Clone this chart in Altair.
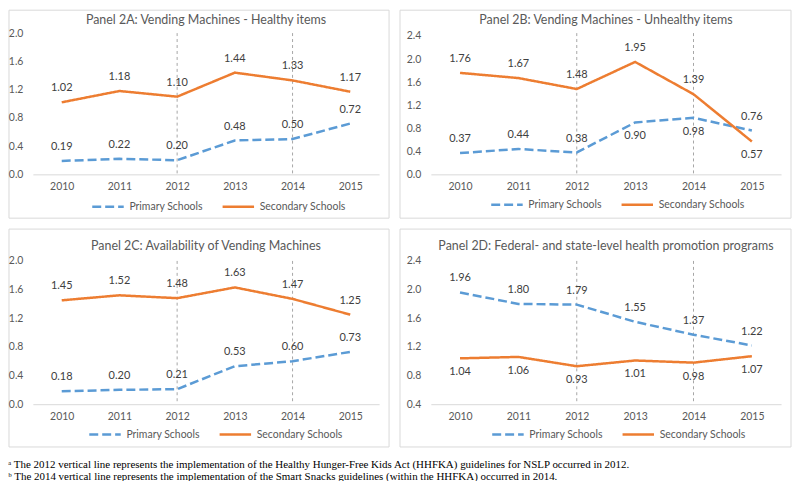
import altair as alt
import pandas as pd

FONT = "Lato"
SERIF = "Liberation Serif"

years = ["2010", "2011", "2012", "2013", "2014", "2015"]
series = ["Primary Schools", "Secondary Schools"]
policy_years = ["2012", "2014"]

a_title = "Panel 2A: Vending Machines - Healthy items"
a_primary = [0.19, 0.22, 0.20, 0.48, 0.50, 0.72]
a_secondary = [1.02, 1.18, 1.10, 1.44, 1.33, 1.17]

b_title = "Panel 2B: Vending Machines - Unhealthy items"
b_primary = [0.37, 0.44, 0.38, 0.90, 0.98, 0.76]
b_secondary = [1.76, 1.67, 1.48, 1.95, 1.39, 0.57]

c_title = "Panel 2C: Availability of Vending Machines"
c_primary = [0.18, 0.20, 0.21, 0.53, 0.60, 0.73]
c_secondary = [1.45, 1.52, 1.48, 1.63, 1.47, 1.25]

d_title = "Panel 2D: Federal- and state-level health promotion programs"
d_primary = [1.96, 1.80, 1.79, 1.55, 1.37, 1.22]
d_secondary = [1.04, 1.06, 0.93, 1.01, 0.98, 1.07]

ticks_0_20 = [0.0, 0.4, 0.8, 1.2, 1.6, 2.0]
ticks_0_24 = [0.0, 0.4, 0.8, 1.2, 1.6, 2.0, 2.4]
ticks_04_24 = [0.4, 0.8, 1.2, 1.6, 2.0, 2.4]

footnotes = [
    "ᵃ  The 2012 vertical line represents the implementation of the Healthy Hunger-Free Kids Act (HHFKA) guidelines for NSLP occurred in 2012.",
    "ᵇ  The 2014 vertical line represents the implementation of the Smart Snacks guidelines (within the HHFKA) occurred in 2014.",
]

# labels drawn below their point (everything else above)
b_below = {("Primary Schools", "2013"), ("Primary Schools", "2014"), ("Secondary Schools", "2015")}
d_below = {("Secondary Schools", y) for y in years}

COLORS = ["#5B9BD5", "#ED7D31"]
DASHES = [[9, 4], [1, 0]]


def panel(title, primary, secondary, below, domain, ticks, width, height,
          box, title_y, legend_x, legend_y):
    rows = []
    for s, vals in zip(series, [primary, secondary]):
        for yr, v in zip(years, vals):
            rows.append({"year": yr, "series": s, "value": v,
                         "pos": "below" if (s, yr) in below else "above"})
    df = pd.DataFrame(rows)

    x = alt.X("year:O", scale=alt.Scale(type="point", padding=0.5, domain=years),
              axis=alt.Axis(title=None, labelAngle=0, ticks=False, domainColor="#d9d9d9",
                            labelColor="#595959", labelFontSize=10.5, labelFont=FONT,
                            labelPadding=7, zindex=1))
    y = alt.Y("value:Q", scale=alt.Scale(domain=domain, nice=False, zero=False),
              axis=alt.Axis(title=None, values=ticks, format=".1f", grid=False, domain=False,
                            ticks=False, labelColor="#595959", labelFontSize=10.5,
                            labelFont=FONT, labelPadding=10, zindex=1))

    leg = alt.Legend(orient="none", legendX=legend_x, legendY=legend_y, direction="horizontal",
                     title=None, symbolType="stroke", symbolSize=1000, symbolStrokeWidth=2.5,
                     labelFontSize=10.5, labelColor="#595959", labelFont=FONT,
                     columnPadding=14, labelOffset=4)

    box_layer = alt.Chart(pd.DataFrame({"k": [0]})).mark_rect(
        fill="white", fillOpacity=0, stroke="#d9d9d9", strokeWidth=1
    ).encode(x=alt.value(box[0]), x2=alt.value(width + box[1]),
             y=alt.value(box[2]), y2=alt.value(height + box[3]))

    rules = alt.Chart(pd.DataFrame({"year": policy_years})).mark_rule(
        color="#a6a6a6", strokeDash=[3, 3], strokeWidth=1
    ).encode(x=x)

    base = alt.Chart(df)
    lines = base.mark_line(strokeWidth=2.5).encode(
        x=x, y=y,
        color=alt.Color("series:N", scale=alt.Scale(domain=series, range=COLORS), legend=leg),
        strokeDash=alt.StrokeDash("series:N", scale=alt.Scale(domain=series, range=DASHES), legend=leg),
    )
    txt = dict(fontSize=11, color="#404040", font=FONT, baseline="middle")
    above = base.transform_filter(alt.datum.pos == "above").mark_text(dy=-14, **txt).encode(
        x=x, y=y, text=alt.Text("value:Q", format=".2f"))
    below_l = base.transform_filter(alt.datum.pos == "below").mark_text(dy=14, **txt).encode(
        x=x, y=y, text=alt.Text("value:Q", format=".2f"))

    title_layer = alt.Chart(pd.DataFrame({"t": [title]})).mark_text(
        fontSize=12.5, color="#595959", font=FONT, baseline="middle"
    ).encode(x=alt.value(width / 2), y=alt.value(title_y), text="t:N")

    return alt.layer(box_layer, rules, lines, above, below_l, title_layer).properties(
        width=width, height=height)


pa = panel(a_title, a_primary, a_secondary, set(), [0, 2.0], ticks_0_20, 348, 142,
           (-24, 10, -23, 44), -13, 58, 157)
pb = panel(b_title, b_primary, b_secondary, b_below, [0, 2.45], ticks_0_24, 352, 142,
           (-31, 10, -23, 44), -13, 59, 155)
pc = panel(c_title, c_primary, c_secondary, set(), [0, 2.0], ticks_0_20, 348, 144,
           (-24, 10, -32, 43), -15, 55, 157)
pd_ = panel(d_title, d_primary, d_secondary, d_below, [0.4, 2.4], ticks_04_24, 352, 144,
            (-31, 10, -32, 43), -15, 60, 157)

ind_scale = dict(x="independent", y="independent", color="independent", strokeDash="independent")
ind_leg = dict(color="independent", strokeDash="independent")

row1 = alt.hconcat(pa, pb, spacing=9).resolve_scale(**ind_scale).resolve_legend(**ind_leg)
row2 = alt.hconcat(pc, pd_, spacing=9).resolve_scale(**ind_scale).resolve_legend(**ind_leg)

chart = alt.vconcat(row1, row2, spacing=9).resolve_scale(**ind_scale).resolve_legend(**ind_leg).properties(
    padding=0,
    background="white",
    title=alt.TitleParams(footnotes, orient="bottom", anchor="start", font=SERIF, fontSize=11,
                          fontWeight="normal", color="#000000", offset=12, lineHeight=12),
).configure_view(stroke=None)

chart.save("out.html", embed_options={"renderer": "svg", "actions": False})
